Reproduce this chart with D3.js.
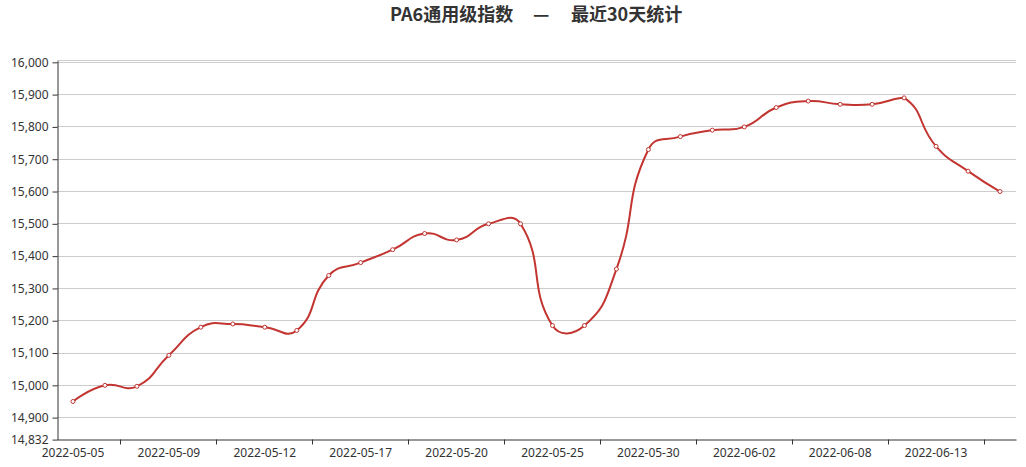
<!DOCTYPE html>
<html>
<head>
<meta charset="utf-8">
<script src="https://d3js.org/d3.v7.min.js"></script>
<style>
body { margin: 0; background: #fff; }
text { font-family: "Noto Sans", "Noto Sans CJK SC", sans-serif; }
</style>
</head>
<body>
<script>
var width = 1026, height = 467;
var plotLeft = 57, plotRight = 1016, plotTop = 60.7, plotBottom = 439.6;

// trading days, last 30
var dates = ["2022-05-05","2022-05-06","2022-05-07","2022-05-09","2022-05-10","2022-05-11",
  "2022-05-12","2022-05-13","2022-05-16","2022-05-17","2022-05-18","2022-05-19",
  "2022-05-20","2022-05-23","2022-05-24","2022-05-25","2022-05-26","2022-05-27",
  "2022-05-30","2022-05-31","2022-06-01","2022-06-02","2022-06-06","2022-06-07",
  "2022-06-08","2022-06-09","2022-06-10","2022-06-13","2022-06-14","2022-06-15"];
var values = [14950,15000,14997,15093,15180,15190,15180,15170,15340,15380,
  15420,15470,15450,15500,15500,15185,15185,15360,15730,15770,
  15790,15800,15860,15880,15870,15870,15890,15740,15663,15600];
var yMin = 14832, yMax = 16005;
var yTicks = [14832,14900,15000,15100,15200,15300,15400,15500,15600,15700,15800,15900,16000];
var xLabels = dates.filter(function(d, i) { return i % 3 === 0; });

// smoothing like echarts (smooth: true -> 0.5), control points clamped to bbox
function SmoothLine(context, smooth) { this._context = context; this._smooth = smooth; }
SmoothLine.prototype = {
  areaStart: function() {},
  areaEnd: function() {},
  lineStart: function() { this._pts = []; },
  point: function(x, y) { this._pts.push([+x, +y]); },
  lineEnd: function() {
    var p = this._pts, n = p.length, c = this._context, s = this._smooth;
    if (!n) return;
    var x0 = d3.min(p, function(d){return d[0];}), x1 = d3.max(p, function(d){return d[0];});
    var y0 = d3.min(p, function(d){return d[1];}), y1 = d3.max(p, function(d){return d[1];});
    function clamp(q) {
      return [Math.max(x0, Math.min(x1, q[0])), Math.max(y0, Math.min(y1, q[1]))];
    }
    c.moveTo(p[0][0], p[0][1]);
    var cp0 = p[0].slice();
    for (var i = 1; i < n; i++) {
      var cur = p[i], prev = p[i - 1], next = p[i + 1];
      var cp1, ratio = 0.5, v = [0, 0];
      if (!next) {
        cp1 = cur.slice();
      } else {
        v = [next[0] - prev[0], next[1] - prev[1]];
        var lp = Math.hypot(cur[0] - prev[0], cur[1] - prev[1]);
        var ln = Math.hypot(next[0] - cur[0], next[1] - cur[1]);
        ratio = ln / (ln + lp);
        cp1 = [cur[0] - v[0] * s * (1 - ratio), cur[1] - v[1] * s * (1 - ratio)];
      }
      cp0 = clamp(cp0); cp1 = clamp(cp1);
      c.bezierCurveTo(cp0[0], cp0[1], cp1[0], cp1[1], cur[0], cur[1]);
      cp0 = [cur[0] + v[0] * s * ratio, cur[1] + v[1] * s * ratio];
    }
  }
};
function curveSmooth(context) { return new SmoothLine(context, 0.5); }

var svg = d3.select("body").append("svg")
  .attr("width", width).attr("height", height);

var x = d3.scaleBand().domain(dates).range([plotLeft, plotRight]).padding(0);
var y = d3.scaleLinear().domain([yMin, yMax]).range([plotBottom, plotTop]);
function cx(d) { return x(d) + x.bandwidth() / 2; }
function crisp(v) { return Math.round(v - 0.5) + 0.5; }

// title
var title = svg.append("text")
  .attr("y", 21)
  .style("font-family", "'Noto Sans CJK SC', sans-serif")
  .style("font-size", "18px").style("font-weight", "bold")
  .attr("fill", "#333");
title.append("tspan").attr("x", 390).text("PA6通用级指数");
title.append("tspan").attr("x", 533).text("—");
title.append("tspan").attr("x", 571).text("最近30天统计");

// grid
svg.append("g").selectAll("line")
  .data(yTicks.slice(1).concat([yMax]))
  .enter().append("line")
  .attr("x1", plotLeft).attr("x2", plotRight)
  .attr("y1", function(d) { return crisp(y(d)); })
  .attr("y2", function(d) { return crisp(y(d)); })
  .attr("stroke", "#ccc");

// y axis
var yAxis = svg.append("g")
  .attr("transform", "translate(" + (plotLeft + 0.5) + ",0)")
  .call(d3.axisLeft(y).tickValues(yTicks).tickSize(5).tickSizeOuter(0)
    .tickPadding(4).tickFormat(d3.format(",")));
yAxis.select(".domain").attr("stroke", "#333");
yAxis.selectAll(".tick line").attr("stroke", "#333");
yAxis.selectAll(".tick text").attr("fill", "#333")
  .style("font-size", "12px").style("font-family", "'Noto Sans', sans-serif");

// x axis
var xAxis = svg.append("g")
  .attr("transform", "translate(0," + crisp(plotBottom) + ")")
  .call(d3.axisBottom(x).tickValues(xLabels).tickSize(0).tickSizeOuter(0).tickPadding(9));
xAxis.select(".domain").attr("stroke", "#333");
xAxis.selectAll(".tick text").attr("fill", "#333")
  .style("font-size", "12px").style("font-family", "'Noto Sans', sans-serif");
xAxis.selectAll(".boundary")
  .data(dates.filter(function(d, i) { return i % 3 === 2; }))
  .enter().append("line")
  .attr("class", "boundary")
  .attr("x1", function(d) { return crisp(x(d)); })
  .attr("x2", function(d) { return crisp(x(d)); })
  .attr("y1", 0).attr("y2", 5)
  .attr("stroke", "#333");

// line
var line = d3.line()
  .x(function(d, i) { return cx(dates[i]); })
  .y(function(d) { return y(d); })
  .curve(curveSmooth);

svg.append("path")
  .datum(values)
  .attr("d", line)
  .attr("fill", "none")
  .attr("stroke", "#c23531")
  .attr("stroke-width", 2);

svg.append("g").selectAll("circle")
  .data(values)
  .enter().append("circle")
  .attr("cx", function(d, i) { return cx(dates[i]); })
  .attr("cy", function(d) { return y(d); })
  .attr("r", 2)
  .attr("fill", "#fff")
  .attr("stroke", "#c23531")
  .attr("stroke-width", 1);
</script>
</body>
</html>
